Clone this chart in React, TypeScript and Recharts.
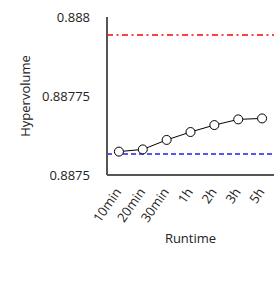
import { CartesianGrid, Line, LineChart, ReferenceLine, XAxis, YAxis } from "recharts"

const runtimes = ["10min", "20min", "30min", "1h", "2h", "3h", "5h"]
const hypervolume = [0.887574, 0.887581, 0.887611, 0.887636, 0.887658, 0.887676, 0.887679]
const yTicks = [0.8875, 0.88775, 0.888]
const upperRef = 0.887943
const lowerRef = 0.8875665

const chartData = runtimes.map((runtime, i) => ({ runtime, hv: hypervolume[i] }))

const font = "'Open Sans', sans-serif"

// x-axis labels rotated, anchored at their end just under the tick
function RotatedTick(props: any) {
  const { x, y, payload } = props
  return (
    <g transform={`translate(${x + 3},${y + 9})`}>
      <text
        x={0}
        y={0}
        textAnchor="end"
        transform="rotate(-55)"
        fontSize={13}
        fontFamily={font}
        fill="#222"
      >
        {payload.value}
      </text>
    </g>
  )
}

export default function App() {
  return (
    <div style={{ position: "absolute", left: 0, top: 0 }}>
      <LineChart
        width={274}
        height={285}
        data={chartData}
        margin={{ top: 17, right: 0, bottom: 0, left: 0 }}
      >
        <CartesianGrid stroke="none" />
        <XAxis
          dataKey="runtime"
          scale="band"
          tickLine={false}
          axisLine={{ stroke: "#555", strokeWidth: 2 }}
          height={110}
          interval={0}
          tick={<RotatedTick />}
          label={{
            value: "Runtime",
            position: "insideTop",
            offset: 59,
            fontSize: 13,
            fontFamily: font,
            fill: "#222",
          }}
        />
        <YAxis
          domain={[0.8875, 0.888]}
          ticks={yTicks}
          width={107}
          tickLine={false}
          tickSize={0}
          tickMargin={17}
          axisLine={{ stroke: "#555", strokeWidth: 2 }}
          tick={{ fontSize: 13, fontFamily: font, fill: "#222" }}
          label={{
            value: "Hypervolume",
            angle: -90,
            position: "center",
            dx: -28,
            fontSize: 13,
            fontFamily: font,
            fill: "#222",
          }}
        />
        <ReferenceLine y={upperRef} stroke="#ff0000" strokeWidth={1.5} strokeDasharray="6 3.5 2 3.5" />
        <ReferenceLine y={lowerRef} stroke="#1f1fff" strokeWidth={1.5} strokeDasharray="5 3" />
        <Line
          type="linear"
          dataKey="hv"
          stroke="#000"
          strokeWidth={1}
          dot={{ r: 4.5, fill: "#fff", stroke: "#000", strokeWidth: 1 }}
          isAnimationActive={false}
        />
      </LineChart>
    </div>
  )
}
